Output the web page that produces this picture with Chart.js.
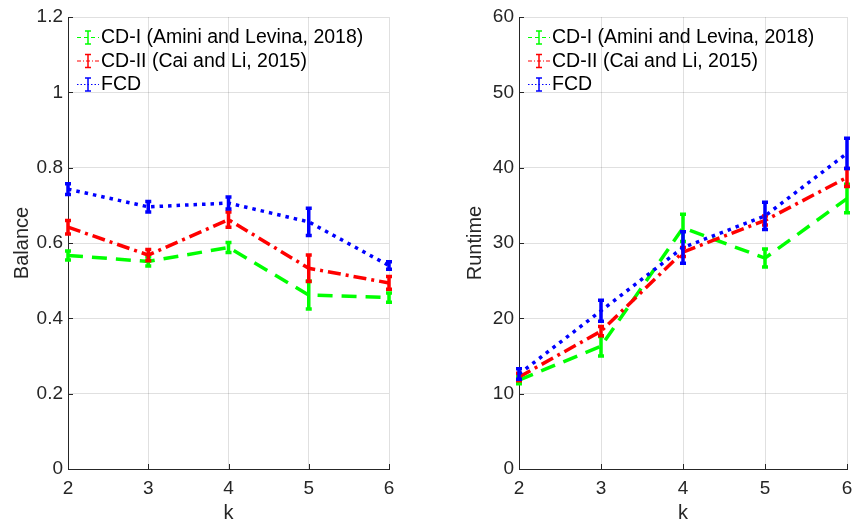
<!DOCTYPE html>
<html><head><meta charset="utf-8">
<script src="https://cdn.jsdelivr.net/npm/chart.js@4"></script>
<style>
html,body{margin:0;padding:0;background:#fff;}
#wrap{position:relative;width:853px;height:520px;overflow:hidden;}
.c{position:absolute;top:0;}
</style></head><body>
<div id="wrap">
<canvas id="c1" class="c" style="left:0px" width="430" height="520"></canvas>
<canvas id="c2" class="c" style="left:430px" width="423" height="520"></canvas>
</div>
<script>
const kValues = [2, 3, 4, 5, 6];
const seriesNames = ['CD-I (Amini and Levina, 2018)', 'CD-II (Cai and Li, 2015)', 'FCD'];

const balanceCD1 = [0.567, 0.551, 0.588, 0.462, 0.455];
const balanceCD1Err = [0.012, 0.012, 0.013, 0.037, 0.012];
const balanceCD2 = [0.642, 0.568, 0.662, 0.533, 0.494];
const balanceCD2Err = [0.018, 0.015, 0.020, 0.035, 0.017];
const balanceFCD = [0.743, 0.696, 0.706, 0.656, 0.540];
const balanceFCDErr = [0.014, 0.014, 0.016, 0.036, 0.010];

const runtimeCD1 = [11.8, 16.3, 32.0, 28.0, 35.9];
const runtimeCD1Err = [0.5, 1.3, 1.8, 1.2, 1.9];
const runtimeCD2 = [12.2, 18.3, 28.8, 33.0, 38.7];
const runtimeCD2Err = [0.5, 0.6, 0.6, 0.6, 1.2];
const runtimeFCD = [12.6, 21.0, 29.4, 33.6, 41.9];
const runtimeFCDErr = [0.7, 1.4, 2.1, 1.8, 2.0];

const balanceTicks = [0, 0.2, 0.4, 0.6, 0.8, 1, 1.2];
const runtimeTicks = [0, 10, 20, 30, 40, 50, 60];

const FONT = "'Liberation Sans', Arial, Helvetica, sans-serif";
const AXIS = '#262626';
const GRID = 'rgba(0,0,0,0.12)';
const COLORS = ['#00ff00', '#ff0000', '#0000ff'];
const DASHES = [[15, 9], [13, 5, 3, 5], [3.5, 5]];

function makeDatasets(vals, errs) {
  return vals.map((v, i) => ({
    label: seriesNames[i],
    data: kValues.map((k, j) => ({x: k, y: v[j]})),
    errors: errs[i],
    borderColor: COLORS[i],
    backgroundColor: COLORS[i],
    borderWidth: 3.5,
    borderDash: DASHES[i],
    borderCapStyle: 'butt',
    pointRadius: 0,
    tension: 0,
    fill: false,
    clip: false,
    order: 2 - i
  }));
}

const errorBarPlugin = {
  id: 'errbars',
  afterDatasetDraw(chart, args) {
    const ds = chart.data.datasets[args.index];
    const ctx = chart.ctx, xs = chart.scales.x, ys = chart.scales.y;
    ctx.save();
    ctx.strokeStyle = ds.borderColor;
    ctx.lineWidth = 3.5;
    ctx.setLineDash([]);
    ctx.lineCap = 'butt';
    ds.data.forEach((p, i) => {
      const e = ds.errors[i];
      const x = xs.getPixelForValue(p.x);
      const y1 = ys.getPixelForValue(p.y - e), y2 = ys.getPixelForValue(p.y + e);
      ctx.beginPath();
      ctx.moveTo(x, y1); ctx.lineTo(x, y2);
      ctx.moveTo(x - 3, y1); ctx.lineTo(x + 3, y1);
      ctx.moveTo(x - 3, y2); ctx.lineTo(x + 3, y2);
      ctx.stroke();
    });
    ctx.restore();
  }
};

const innerTicksPlugin = {
  id: 'innerTicks',
  afterDraw(chart) {
    const ctx = chart.ctx, xs = chart.scales.x, ys = chart.scales.y, a = chart.chartArea;
    ctx.save();
    ctx.strokeStyle = AXIS; ctx.lineWidth = 1;
    ctx.beginPath();
    ys.ticks.forEach(t => { const y = Math.round(ys.getPixelForValue(t.value)) + 0.5; ctx.moveTo(a.left, y); ctx.lineTo(a.left + 5, y); });
    xs.ticks.forEach(t => { const x = Math.round(xs.getPixelForValue(t.value)) + 0.5; ctx.moveTo(x, a.bottom); ctx.lineTo(x, a.bottom - 5); });
    ctx.stroke();
    ctx.restore();
  }
};

const legendPlugin = {
  id: 'customLegend',
  afterDraw(chart) {
    const ctx = chart.ctx, a = chart.chartArea;
    ctx.save();
    chart.data.datasets.forEach((ds, i) => {
      const y = a.top + 20 + i * 23.5;
      const x0 = a.left + 9, x1 = a.left + 31, xm = (x0 + x1) / 2;
      ctx.strokeStyle = ds.borderColor;
      ctx.lineWidth = 1;
      ctx.setLineDash(i === 2 ? [1.5, 2] : (i === 1 ? [4, 2, 1, 2] : [4, 3]));
      ctx.beginPath(); ctx.moveTo(x0, y + 0.5); ctx.lineTo(x1, y + 0.5); ctx.stroke();
      ctx.setLineDash([]);
      ctx.lineWidth = 1.5;
      ctx.beginPath();
      ctx.moveTo(xm, y - 6); ctx.lineTo(xm, y + 7);
      ctx.moveTo(xm - 3, y - 6); ctx.lineTo(xm + 3, y - 6);
      ctx.moveTo(xm - 3, y + 7); ctx.lineTo(xm + 3, y + 7);
      ctx.stroke();
      ctx.fillStyle = '#000';
      ctx.font = '19.5px ' + FONT;
      ctx.textBaseline = 'middle';
      ctx.textAlign = 'left';
      ctx.fillText(ds.label, x1 + 2, y + 1);
    });
    ctx.restore();
  }
};

function makeChart(id, vals, errs, yMax, yStep, yTitle, yWidth, padRight, yTitlePad) {
  return new Chart(document.getElementById(id), {
    type: 'line',
    data: {datasets: makeDatasets(vals, errs)},
    options: {
      responsive: false,
      animation: false,
      devicePixelRatio: 1,
      layout: {padding: {top: 17, right: padRight, left: 0, bottom: 0}},
      plugins: {legend: {display: false}, tooltip: {enabled: false}},
      scales: {
        x: {
          type: 'linear', min: 2, max: 6,
          ticks: {stepSize: 1, color: AXIS, font: {family: FONT, size: 19}, padding: 8},
          grid: {color: GRID, drawTicks: false},
          border: {color: AXIS, width: 1},
          title: {display: true, text: 'k', color: AXIS, font: {family: FONT, size: 20, lineHeight: 0.7}, padding: {top: 0, bottom: 0}},
          afterFit(s) { s.height = 51; s.paddingLeft = 0; s.paddingRight = 0; }
        },
        y: {
          type: 'linear', min: 0, max: yMax,
          ticks: {stepSize: yStep, color: AXIS, font: {family: FONT, size: 19}, padding: 5,
                  callback: v => String(+v.toFixed(1))},
          grid: {color: GRID, drawTicks: false},
          border: {color: AXIS, width: 1},
          title: {display: true, text: yTitle, color: AXIS, font: {family: FONT, size: 20, lineHeight: 1}, padding: {top: yTitlePad, bottom: 0}},
          afterFit(s) { s.width = yWidth; s.paddingTop = 0; s.paddingBottom = 0; }
        }
      }
    },
    plugins: [errorBarPlugin, innerTicksPlugin, legendPlugin]
  });
}

makeChart('c1',
  [balanceCD1, balanceCD2, balanceFCD],
  [balanceCD1Err, balanceCD2Err, balanceFCDErr],
  balanceTicks[balanceTicks.length - 1], balanceTicks[1] - balanceTicks[0], 'Balance', 68, 41, 12);
makeChart('c2',
  [runtimeCD1, runtimeCD2, runtimeFCD],
  [runtimeCD1Err, runtimeCD2Err, runtimeFCDErr],
  runtimeTicks[runtimeTicks.length - 1], runtimeTicks[1] - runtimeTicks[0], 'Runtime', 89, 6, 35);
</script>
</body></html>
